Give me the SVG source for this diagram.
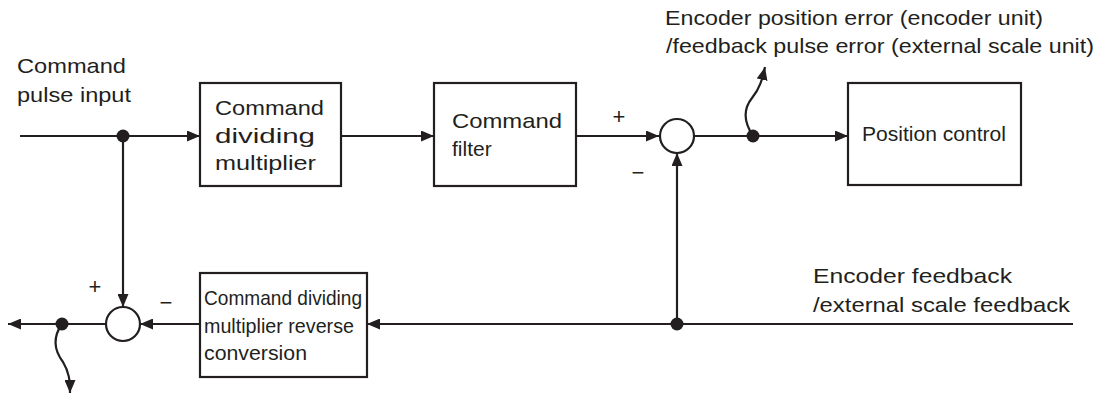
<svg xmlns="http://www.w3.org/2000/svg" width="1100" height="394" viewBox="0 0 1100 394">
<style>
  .box { fill: #fff; stroke: #231f20; stroke-width: 2.2; }
  .sum { fill: #fff; stroke: #231f20; stroke-width: 2.2; }
  .ln { fill: none; stroke: #231f20; stroke-width: 2.2; }
  .arr { marker-end: url(#ah); }
  .dot { fill: #231f20; }
  text { font-family: "Liberation Sans", Arial, sans-serif; font-size: 21px; fill: #231f20; }
  .sign { font-size: 22px; text-anchor: middle; }
</style>
<defs>
  <marker id="ah" markerUnits="userSpaceOnUse" markerWidth="13" markerHeight="11" refX="13" refY="5.5" orient="auto">
    <path d="M0,0 L13,5.5 L0,11 z" fill="#231f20"/>
  </marker>
</defs>

<g id="connectors">
  <path class="ln arr" d="M20,136 H200"/>
  <path class="ln arr" d="M341,136 H434"/>
  <path class="ln arr" d="M576,136 H659"/>
  <path class="ln arr" d="M694,136 H848"/>
  <path class="ln arr" d="M753,136 C743,121 744,108 752,98 C760,88 762,80 765,67"/>
  <path class="ln arr" d="M1073,324 H367"/>
  <path class="ln arr" d="M677,324 V153"/>
  <path class="ln arr" d="M200,324 H140"/>
  <path class="ln arr" d="M123,136 V307"/>
  <path class="ln arr" d="M106,324 H8"/>
  <path class="ln arr" d="M62,324 C52,338 54,350 63,362 C69,372 70,380 70,393"/>
  <circle class="dot" cx="123" cy="136" r="6.5"/>
  <circle class="dot" cx="753" cy="136" r="6.5"/>
  <circle class="dot" cx="677" cy="324" r="6.5"/>
  <circle class="dot" cx="62" cy="324" r="6.5"/>
</g>

<g id="label-input">
  <text x="17" y="73" textLength="109" lengthAdjust="spacingAndGlyphs">Command</text>
  <text x="17" y="102" textLength="114" lengthAdjust="spacingAndGlyphs">pulse input</text>
</g>

<g id="label-error">
  <text x="665" y="25" textLength="378" lengthAdjust="spacingAndGlyphs">Encoder position error (encoder unit)</text>
  <text x="666" y="53" textLength="428" lengthAdjust="spacingAndGlyphs">/feedback pulse error (external scale unit)</text>
</g>

<g id="label-feedback">
  <text x="813" y="283" textLength="199" lengthAdjust="spacingAndGlyphs">Encoder feedback</text>
  <text x="813" y="312" textLength="257" lengthAdjust="spacingAndGlyphs">/external scale feedback</text>
</g>

<g id="node-cdm">
  <rect class="box" x="200" y="83" width="141" height="103"/>
  <text x="215" y="115" textLength="109" lengthAdjust="spacingAndGlyphs">Command</text>
  <text x="215" y="143" textLength="100" lengthAdjust="spacingAndGlyphs">dividing</text>
  <text x="215" y="170" textLength="101" lengthAdjust="spacingAndGlyphs">multiplier</text>
</g>

<g id="node-filter">
  <rect class="box" x="434" y="83" width="142" height="103"/>
  <text x="452" y="128" textLength="110" lengthAdjust="spacingAndGlyphs">Command</text>
  <text x="452" y="156">filter</text>
</g>

<g id="node-sum1">
  <circle class="sum" cx="677" cy="136" r="17"/>
  <text class="sign" x="619" y="124">+</text>
  <text class="sign" x="638" y="180">−</text>
</g>

<g id="node-position">
  <rect class="box" x="848" y="83" width="173" height="102"/>
  <text x="862" y="141" textLength="144" lengthAdjust="spacingAndGlyphs">Position control</text>
</g>

<g id="node-reverse">
  <rect class="box" x="200" y="273" width="167" height="104"/>
  <text x="204" y="305" textLength="158" lengthAdjust="spacingAndGlyphs">Command dividing</text>
  <text x="204" y="333" textLength="150" lengthAdjust="spacingAndGlyphs">multiplier reverse</text>
  <text x="204" y="360" textLength="103" lengthAdjust="spacingAndGlyphs">conversion</text>
</g>

<g id="node-sum2">
  <circle class="sum" cx="123" cy="324" r="17"/>
  <text class="sign" x="95" y="294">+</text>
  <text class="sign" x="166" y="310">−</text>
</g>
</svg>
